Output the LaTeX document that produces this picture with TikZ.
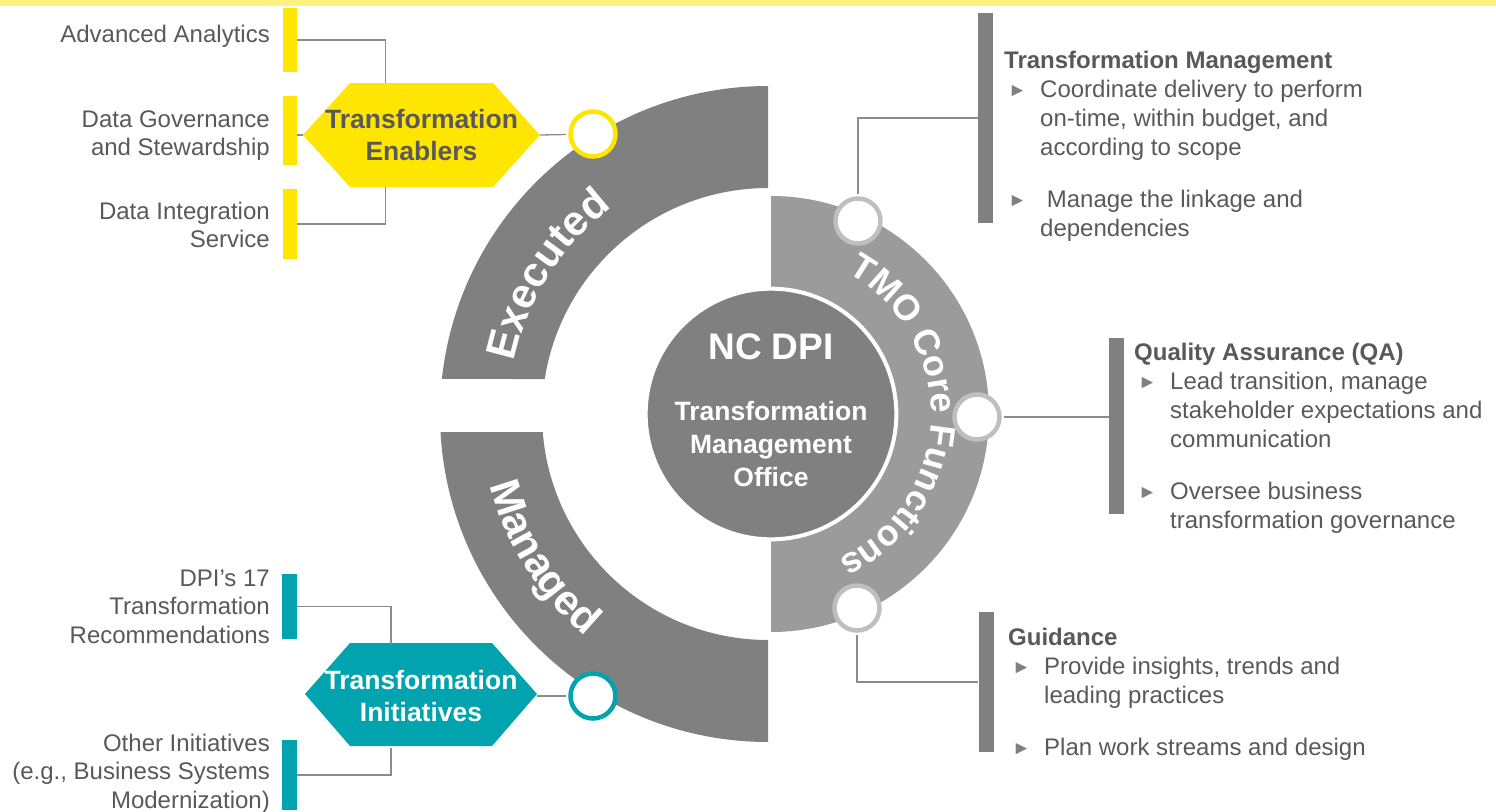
\documentclass[tikz,border=0pt]{standalone}
\usepackage{fontspec}
\setmainfont{Liberation Sans}
\usetikzlibrary{decorations.text}

\definecolor{ringdark}{HTML}{808080}
\definecolor{ringlight}{HTML}{9B9B9B}
\definecolor{enabyellow}{HTML}{FFE600}
\definecolor{initteal}{HTML}{00A3AE}
\definecolor{bandyellow}{HTML}{FFF280}
\definecolor{txtgray}{HTML}{595959}
\definecolor{rimgray}{HTML}{BFBFBF}
\definecolor{linegray}{HTML}{8C8C8C}

\newcommand{\ringfont}{\fontsize{42}{42}\selectfont\bfseries}
\newcommand{\tmofont}{\fontsize{36}{36}\selectfont\bfseries}
\newcommand{\tribul}{\makebox[36pt][l]{\hspace{4pt}\raisebox{1pt}{\fontsize{19}{19}\selectfont\textcolor{ringdark}{►}}}}
\newcommand{\tricont}{\hspace*{36pt}}

\tikzset{
  lbl/.style={anchor=east, align=right, inner sep=0pt, text=txtgray, font=\fontsize{24}{28.5}\selectfont},
  blk/.style={anchor=north west, align=left, inner sep=0pt, text=txtgray, font=\fontsize{24}{29}\selectfont},
  ybar/.style={rectangle, fill=enabyellow, minimum width=14pt, inner sep=0pt},
  tbar/.style={rectangle, fill=initteal, minimum width=15pt, inner sep=0pt},
  gbar/.style={rectangle, fill=ringdark, minimum width=15pt, inner sep=0pt},
  hexe/.style={minimum width=237pt, minimum height=104pt, inner sep=0pt, align=center, font=\fontsize{26.5}{31.5}\selectfont\bfseries},
  ringdot/.style={circle, fill=white, draw=#1, line width=4.5pt, minimum size=45pt, inner sep=0pt},
  conn/.style={draw=linegray, line width=1.3pt},
}

\begin{document}
\begin{tikzpicture}[x=1pt,y=1pt]
\useasboundingbox (0,0) rectangle (1496,-811);
\fill[bandyellow] (0,0) rectangle (1496,-6);

% outer rings
\fill[ringdark] (768,-86) arc[start angle=90, end angle=173.87, radius=328]
  -- ([shift={(768,-414)}]171.09:226) arc[start angle=171.09, end angle=90, radius=226] -- cycle;
\fill[ringdark] (768,-742) arc[start angle=270, end angle=183.15, radius=328]
  -- ([shift={(768,-414)}]184.57:226) arc[start angle=184.57, end angle=270, radius=226] -- cycle;
\fill[ringlight] (771,-196) arc[start angle=90, end angle=-90, radius=218]
  -- (771,-540) arc[start angle=-90, end angle=90, radius=126] -- cycle;

\path[decorate, decoration={text along path, text={|\ringfont|Executed}, text color=white, text align=center}]
  ([shift={(768,-414)}]177.7:259) arc[start angle=177.7, end angle=117.7, radius=259];
\path[decorate, decoration={text along path, text={|\ringfont|Managed}, text color=white, text align=center}]
  ([shift={(768,-414)}]182.5:287) arc[start angle=182.5, end angle=242.5, radius=287];
\path[decorate, decoration={text along path, text={|\tmofont|TMO Core Functions}, text color=white, text align=center}]
  ([shift={(771,-414)}]70:160) arc[start angle=70, end angle=-73.5, radius=160];

\draw (771,-414) node[circle, fill=ringdark, draw=white, line width=4pt, minimum size=242pt, inner sep=0pt,
  text=white, align=center, font=\fontsize{26.5}{33}\selectfont\bfseries] (tmo)
  {{\fontsize{37}{37}\selectfont NC DPI}\\[28pt]Transformation\\Management\\Office\rule[-8pt]{0pt}{8pt}};

% circles on the rings
\draw (593,-134) node[ringdot=enabyellow] (cexe) {};
\draw (593,-696) node[ringdot=initteal] (cman) {};
\draw (858,-221) node[ringdot=rimgray] (ctm) {};
\draw (977,-417) node[ringdot=rimgray] (cqa) {};
\draw (857,-608) node[ringdot=rimgray] (cgd) {};

% left side
\fill[enabyellow] (303,-135) -- (350,-83) -- (493,-83) -- (540,-135) -- (493,-187) -- (350,-187) -- cycle
  (421.5,-135) node[hexe, text=txtgray] (enab) {Transformation\\Enablers};
\fill[initteal] (305,-694) -- (350,-643) -- (492,-643) -- (537,-694) -- (492,-746) -- (350,-746) -- cycle
  (421,-696) node[hexe, minimum width=232pt, minimum height=103pt, text=white] (init) {Transformation\\Initiatives};

\draw (290,-40) node[ybar, minimum height=64pt] (ba) {};
\draw (290,-130.5) node[ybar, minimum height=69pt] (bb) {};
\draw (290,-224) node[ybar, minimum height=70pt] (bc) {};
\draw (289.5,-606.5) node[tbar, minimum height=65pt] (bd) {};
\draw (289.5,-775) node[tbar, minimum height=70pt] (be) {};

\draw (270,-36) node[lbl] (ta) {Advanced Analytics};
\draw (270,-135.5) node[lbl] (tb) {Data Governance\\and Stewardship};
\draw (270,-225) node[lbl] (tc) {Data Integration\\Service};
\draw (270,-606.5) node[lbl] (td) {DPI’s 17\\Transformation\\Recommendations};
\draw (270,-773.5) node[lbl] (te) {Other Initiatives\\(e.g., Business Systems\\Modernization)};

\draw[conn] (ba.east) -| ([xshift=-36pt]enab.north);
\draw[conn] (bb.east |- enab.west) -- (enab.west);
\draw[conn] (bc.east) -| ([xshift=-36pt]enab.south);
\draw[conn, shorten >=2.5pt] (enab.east) -- (cexe);
\draw[conn] (bd.east) -| ([xshift=-30pt,yshift=0.5pt]init.north);
\draw[conn] (be.east) -| ([xshift=-30pt,yshift=-0.5pt]init.south);
\draw[conn, shorten >=2.5pt] (init.east) -- (cman);

% right side
\draw (985.5,-118) node[gbar, minimum height=210pt] (btm) {};
\draw (1116.5,-426) node[gbar, minimum height=176pt] (bqa) {};
\draw (986,-682) node[gbar, minimum height=140pt] (bgd) {};

\draw[conn, shorten >=2.5pt] (btm.west) -| (ctm.north);
\draw[conn, shorten <=2.5pt] (cqa.east) -- (cqa.east -| bqa.west);
\draw[conn, shorten <=2.5pt] (cgd.south) |- (bgd.west);

\draw (1004,-51) node[blk] (ttm) {{\bfseries Transformation Management}\\
  \tribul Coordinate delivery to perform\\
  \tricont on-time, within budget, and\\
  \tricont according to scope\\[23pt]
  \tribul\ Manage the linkage and\\
  \tricont dependencies};
\draw (1134,-343) node[blk] (tqa) {{\bfseries Quality Assurance (QA)}\\
  \tribul Lead transition, manage\\
  \tricont stakeholder expectations and\\
  \tricont communication\\[23pt]
  \tribul Oversee business\\
  \tricont transformation governance};
\draw (1008,-628) node[blk] (tgd) {{\bfseries Guidance}\\
  \tribul Provide insights, trends and\\
  \tricont leading practices\\[23pt]
  \tribul Plan work streams and design};

\end{tikzpicture}
\end{document}
